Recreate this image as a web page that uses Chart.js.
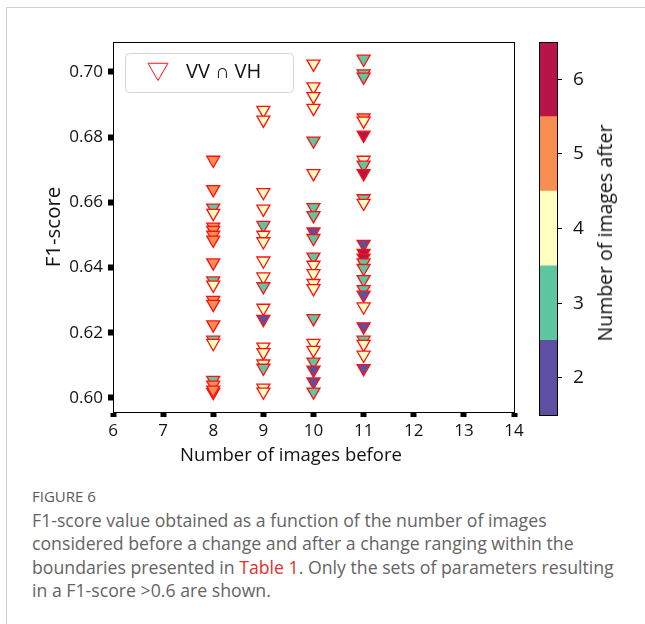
<!DOCTYPE html>
<html>
<head>
<meta charset="utf-8">
<script src="https://cdn.jsdelivr.net/npm/chart.js@4.4.1/dist/chart.umd.min.js"></script>
<style>
html, body { margin: 0; padding: 0; background: #fff; }
body { width: 645px; height: 624px; position: relative; overflow: hidden; font-family: "Open Sans", sans-serif; }
.frame { position: absolute; left: 6px; top: 7px; width: 700px; height: 700px; border-left: 1px solid #d0d0d0; border-top: 1px solid #d0d0d0; }
#main { position: absolute; left: 0; top: 0; }
#cbar { position: absolute; left: 530px; top: 0; }
.xtitle { position: absolute; left: 160px; top: 442px; width: 262px; text-align: center; font-size: 18.5px; line-height: 24px; color: #111; white-space: nowrap; }
.cbtitle { position: absolute; left: 605px; top: 233px; transform: translate(-50%, -50%) rotate(-90deg); font-size: 19.5px; line-height: 24px; color: #111; white-space: nowrap; }
.fig { position: absolute; left: 32px; top: 488px; font-size: 15px; line-height: 17px; color: #595959; }
.cap { position: absolute; left: 32px; top: 509px; font-size: 17.7px; line-height: 23.3px; color: #646464; white-space: nowrap; }
.cap .red { color: #e3302b; }
</style>
</head>
<body>
<div class="frame"></div>
<canvas id="main" width="530" height="470"></canvas>
<canvas id="cbar" width="115" height="470"></canvas>
<div class="xtitle">Number of images before</div>
<div class="cbtitle">Number of images after</div>
<div class="fig">FIGURE 6</div>
<div class="cap">F1-score value obtained as a function of the number of images<br>considered before a change and after a change ranging within the<br>boundaries presented in <span class="red">Table 1</span>. Only the sets of parameters resulting<br>in a F1-score &gt;0.6 are shown.</div>

<script>
// Axis ticks
const xTicks = [6, 7, 8, 9, 10, 11, 12, 13, 14];
const yTicks = [0.60, 0.62, 0.64, 0.66, 0.68, 0.70];

// Colour classes: number of images after a change
const afterLevels = [2, 3, 4, 5, 6];
const afterColors = ['#5e4fa2', '#5fc6a2', '#ffffbf', '#f88d52', '#b8144a'];

// F1-score per parameter set, grouped by number of images before
const f1Before8 = [0.6730, 0.6640, 0.6583, 0.6567, 0.6525, 0.6515, 0.6500, 0.6485, 0.6415, 0.6360,
    0.6347, 0.6300, 0.6288, 0.6225, 0.6178, 0.6168, 0.6055, 0.6018, 0.6040, 0.6025];
const afterBefore8 = [5, 5, 3, 4, 5, 5, 5, 5, 5, 3, 4, 5, 5, 5, 3, 4, 3, 3, 5, 5];

const f1Before9 = [0.6883, 0.6853, 0.6631, 0.6580, 0.6530, 0.6500, 0.6480, 0.6421, 0.6372, 0.6342,
    0.6276, 0.6242, 0.6157, 0.6140, 0.6105, 0.6092, 0.6031, 0.6019];
const afterBefore9 = [4, 4, 4, 4, 3, 4, 4, 4, 4, 3, 4, 2, 4, 4, 4, 3, 4, 4];

const f1Before10 = [0.7025, 0.6955, 0.6925, 0.6889, 0.6789, 0.6689, 0.6585, 0.6560, 0.6510, 0.6490,
    0.6433, 0.6408, 0.6382, 0.6352, 0.6336, 0.6244, 0.6168, 0.6147, 0.6111, 0.6086, 0.6050, 0.6019];
const afterBefore10 = [4, 4, 4, 4, 3, 4, 3, 3, 2, 3, 3, 4, 4, 4, 4, 3, 4, 4, 3, 2, 2, 3];

const f1Before11 = [0.7040, 0.6995, 0.6985, 0.6860, 0.6850, 0.6807, 0.6730, 0.6715, 0.6689, 0.6612,
    0.6598, 0.6472, 0.6444, 0.6430, 0.6415, 0.6398, 0.6364, 0.6333, 0.6316, 0.6280, 0.6219, 0.6178,
    0.6165, 0.6132, 0.6091];
const afterBefore11 = [3, 3, 3, 5, 4, 6, 4, 3, 6, 3, 4, 2, 6, 6, 3, 3, 3, 3, 2, 4, 2, 3, 4, 4, 2];

const groups = [
    { before: 8, f1: f1Before8, after: afterBefore8 },
    { before: 9, f1: f1Before9, after: afterBefore9 },
    { before: 10, f1: f1Before10, after: afterBefore10 },
    { before: 11, f1: f1Before11, after: afterBefore11 },
];

const points = [];
groups.forEach(g => {
    g.f1.forEach((v, i) => points.push({ x: g.before, y: v, after: g.after[i] }));
});

function colorFor(after) {
    const i = afterLevels.indexOf(after);
    return i < 0 ? '#ffffff' : afterColors[i];
}

const FONT = '"Open Sans", sans-serif';
Chart.defaults.font.family = FONT;

// Box around the plotting area
const boxFrame = {
    id: 'boxFrame',
    afterDraw(chart) {
        const { ctx, chartArea: a } = chart;
        ctx.save();
        ctx.strokeStyle = '#000';
        ctx.lineWidth = 1;
        ctx.strokeRect(Math.round(a.left) + 0.5, Math.round(a.top) + 0.5,
            Math.round(a.right - a.left), Math.round(a.bottom - a.top));
        ctx.restore();
    },
};

// Legend drawn inside the plot (top left), like matplotlib's
const insideLegend = {
    id: 'insideLegend',
    afterDraw(chart) {
        const { ctx, chartArea: a } = chart;
        const left = a.left + 12, top = a.top + 11, w = 168, h = 39;
        ctx.save();
        ctx.fillStyle = '#fff';
        ctx.strokeStyle = '#d4d4d4';
        ctx.lineWidth = 1;
        ctx.beginPath();
        ctx.roundRect(left + 0.5, top + 0.5, w, h, 4);
        ctx.fill();
        ctx.stroke();
        ctx.fillStyle = '#fff';
        ctx.strokeStyle = '#ff1010';
        Chart.helpers.drawPoint(ctx, { pointStyle: 'triangle', rotation: 180, radius: 11.5, borderWidth: 1.4 },
            left + 33, top + 16);
        ctx.fillStyle = '#111';
        ctx.font = '20px ' + FONT;
        ctx.textBaseline = 'middle';
        ctx.fillText(chart.data.datasets[0].label, left + 61, top + 19.5);
        ctx.restore();
    },
};

new Chart(document.getElementById('main'), {
    type: 'scatter',
    data: {
        datasets: [{
            label: 'VV \u2229 VH',
            data: points,
            pointStyle: 'triangle',
            rotation: 180,
            pointRadius: 7.5,
            pointHoverRadius: 7.5,
            borderWidth: 1.3,
            borderColor: '#ff1010',
            backgroundColor: ctx => colorFor(ctx.raw && ctx.raw.after),
        }],
    },
    options: {
        responsive: false,
        animation: false,
        events: [],
        layout: { padding: { top: 42, right: 16, left: 0, bottom: 0 } },
        plugins: { legend: { display: false }, tooltip: { enabled: false } },
        scales: {
            x: {
                type: 'linear',
                min: 6,
                max: 14,
                afterBuildTicks: s => { s.ticks = xTicks.map(v => ({ value: v })); },
                afterFit: s => { s.height = 58; },
                ticks: { font: { size: 17 }, color: '#111', padding: 4, maxRotation: 0 },
                grid: { drawOnChartArea: false, tickLength: 5, tickWidth: 6, tickColor: '#000' },
                border: { color: '#000', width: 1 },
            },
            y: {
                min: 0.5957,
                max: 0.7092,
                afterBuildTicks: s => { s.ticks = yTicks.map(v => ({ value: v })); },
                afterFit: s => { s.width = 113; },
                ticks: { font: { size: 17 }, color: '#111', padding: 5, callback: v => v.toFixed(2) },
                grid: { drawOnChartArea: false, tickLength: 5, tickWidth: 6, tickColor: '#000' },
                border: { color: '#000', width: 1 },
                title: { display: true, text: 'F1-score', font: { size: 20.5 }, color: '#111', padding: { top: 42, bottom: 0 } },
            },
        },
    },
    plugins: [boxFrame, insideLegend],
});

// Discrete colour bar
new Chart(document.getElementById('cbar'), {
    type: 'bar',
    data: {
        labels: [''],
        datasets: afterLevels.map((v, i) => ({
            data: [[v - 0.5, v + 0.5]],
            backgroundColor: afterColors[i],
            borderWidth: 0,
            barPercentage: 1,
            categoryPercentage: 1,
            grouped: false,
        })),
    },
    options: {
        responsive: false,
        animation: false,
        events: [],
        layout: { padding: { left: 9, top: 42, bottom: 55, right: 0 } },
        plugins: { legend: { display: false }, tooltip: { enabled: false } },
        scales: {
            x: { display: false },
            y: {
                position: 'right',
                min: 1.5,
                max: 6.5,
                afterBuildTicks: s => { s.ticks = afterLevels.map(v => ({ value: v })); },
                afterFit: s => { s.width = 88; },
                ticks: { font: { size: 19 }, color: '#111', padding: 11 },
                grid: { drawOnChartArea: false, tickLength: 5, tickWidth: 1, tickColor: '#000' },
                border: { color: '#000', width: 1 },
            },
        },
    },
    plugins: [boxFrame],
});
</script>
</body>
</html>
